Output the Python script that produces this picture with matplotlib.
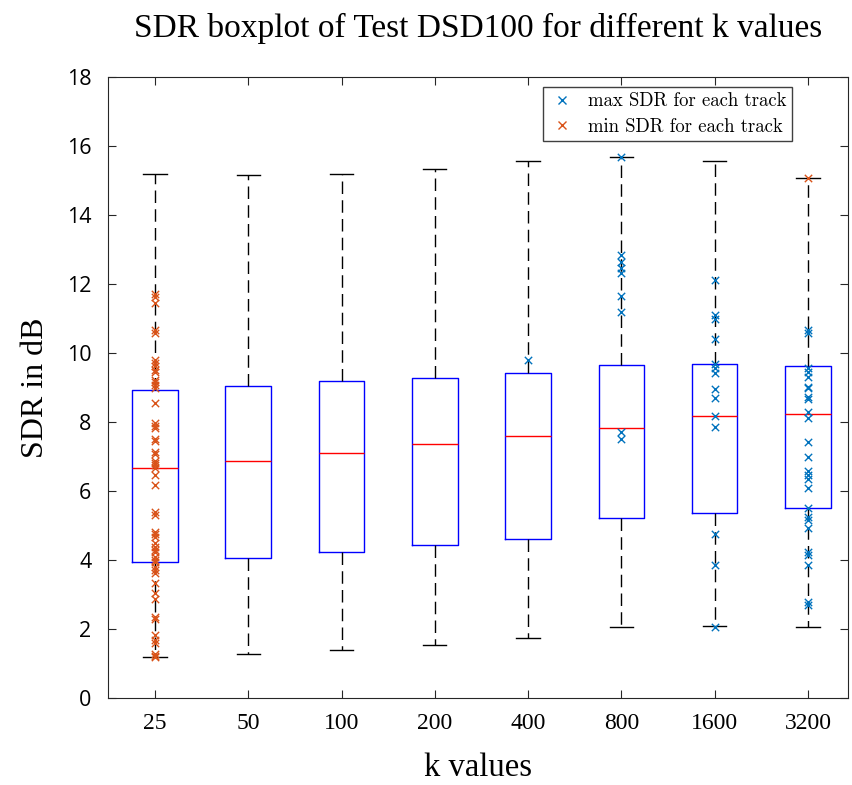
import matplotlib
matplotlib.use("Agg")
import matplotlib.pyplot as plt
from matplotlib.lines import Line2D

# ---- data ----
k_labels = ['25', '50', '100', '200', '400', '800', '1600', '3200']
whislo = [1.20, 1.28, 1.38, 1.53, 1.75, 2.05, 2.08, 2.05]
q1 = [3.95, 4.07, 4.23, 4.44, 4.62, 5.22, 5.36, 5.51]
med = [6.67, 6.88, 7.10, 7.36, 7.59, 7.84, 8.17, 8.23]
q3 = [8.93, 9.04, 9.19, 9.28, 9.42, 9.65, 9.68, 9.62]
whishi = [15.18, 15.16, 15.18, 15.33, 15.57, 15.68, 15.56, 15.08]

min_25 = [11.72, 11.62, 11.44, 10.68, 10.58, 9.80, 9.70, 9.62, 9.52, 9.46, 9.22,
          9.15, 9.08, 8.98, 8.54, 7.96, 7.88, 7.82, 7.50, 7.44, 7.14, 7.08, 6.88,
          6.82, 6.75, 6.66, 6.46, 6.17, 5.40, 5.30, 4.82, 4.74, 4.66, 4.48, 4.39,
          4.30, 4.24, 4.10, 4.00, 3.95, 3.81, 3.70, 3.61, 3.32, 3.03, 2.88, 2.36,
          2.28, 1.83, 1.68, 1.60, 1.28, 1.22, 1.20]
min_3200 = [15.08]
max_400 = [9.80]
max_800 = [15.68, 12.84, 12.65, 12.45, 12.31, 11.65, 11.20, 7.72, 7.52]
max_1600 = [12.13, 11.10, 10.98, 10.40, 9.68, 9.56, 9.41, 8.95, 8.69, 8.17,
            7.86, 4.75, 3.86, 2.07]
max_3200 = [10.67, 10.57, 9.56, 9.46, 9.31, 9.02, 8.98, 8.73, 8.66, 8.30, 8.11,
            7.43, 6.99, 6.59, 6.46, 6.34, 6.08, 5.50, 5.26, 5.16, 4.92, 4.24,
            4.14, 3.86, 2.79, 2.70]

yticks = [0, 2, 4, 6, 8, 10, 12, 14, 16, 18]

BLUE = '#0072BD'
ORANGE = '#D95319'
SERIF = ['Liberation Serif', 'DejaVu Serif']

fig = plt.figure(figsize=(8.53, 7.85), dpi=100)
ax = fig.add_axes([108/853, 1 - 698/785, (848 - 108)/853, (698 - 77)/785])

positions = list(range(1, len(k_labels) + 1))
stats = []
for i in range(len(k_labels)):
    stats.append(dict(med=med[i], q1=q1[i], q3=q3[i], whislo=whislo[i],
                      whishi=whishi[i], fliers=[], label=k_labels[i]))

ax.bxp(stats, positions=positions, widths=0.49, showfliers=False,
       boxprops=dict(color='#0000FF', linewidth=1.0),
       medianprops=dict(color='#FF0000', linewidth=1.0),
       whiskerprops=dict(color='#000000', linewidth=1.0, linestyle=(0, (9, 4.5))),
       capprops=dict(color='#000000', linewidth=1.0),
       capwidths=0.25)

mk = dict(marker='x', s=28, linewidths=1.0, zorder=5)
ax.scatter([1] * len(min_25), min_25, color=ORANGE, **mk)
ax.scatter([8] * len(min_3200), min_3200, color=ORANGE, **mk)
ax.scatter([5] * len(max_400), max_400, color=BLUE, **mk)
ax.scatter([6] * len(max_800), max_800, color=BLUE, **mk)
ax.scatter([7] * len(max_1600), max_1600, color=BLUE, **mk)
ax.scatter([8] * len(max_3200), max_3200, color=BLUE, **mk)

ax.set_xlim(0.496, 8.43)
ax.set_ylim(0, 18)
ax.set_yticks(yticks)
ax.set_yticklabels([str(v) for v in yticks], family=['Open Sans', 'DejaVu Sans'], fontsize=15.5)
ax.set_xticks(positions)
ax.set_xticklabels(k_labels, family=SERIF, fontsize=17)
ax.tick_params(direction='in', top=True, right=True, length=6, width=0.8,
               color='#262626', pad=11)
ax.tick_params(axis='y', pad=12)
for sp in ax.spines.values():
    sp.set_color('#262626')
    sp.set_linewidth(0.8)

ax.set_title('SDR boxplot of Test DSD100 for different k values', family=SERIF,
             fontsize=24, pad=29)
ax.set_ylabel('SDR in dB', family=SERIF, fontsize=23, labelpad=12)
ax.set_xlabel('k values', family=SERIF, fontsize=23.5, labelpad=13)

handles = [Line2D([], [], marker='x', color=BLUE, linestyle='none', markersize=5.5, mew=1.0),
           Line2D([], [], marker='x', color=ORANGE, linestyle='none', markersize=5.5, mew=1.0)]
leg = ax.legend(handles, ['max SDR for each track', 'min SDR for each track'],
                loc='upper right', bbox_to_anchor=(0.9365, 0.9995), fancybox=False,
                prop=dict(family=['cmr10', 'DejaVu Serif'], size=13.5),
                handlelength=1.5, handletextpad=0.6, borderpad=0.3,
                labelspacing=0.4, framealpha=1)
leg.get_frame().set_edgecolor('#404040')
leg.get_frame().set_linewidth(1.0)

fig.savefig('out.png', dpi=100)
